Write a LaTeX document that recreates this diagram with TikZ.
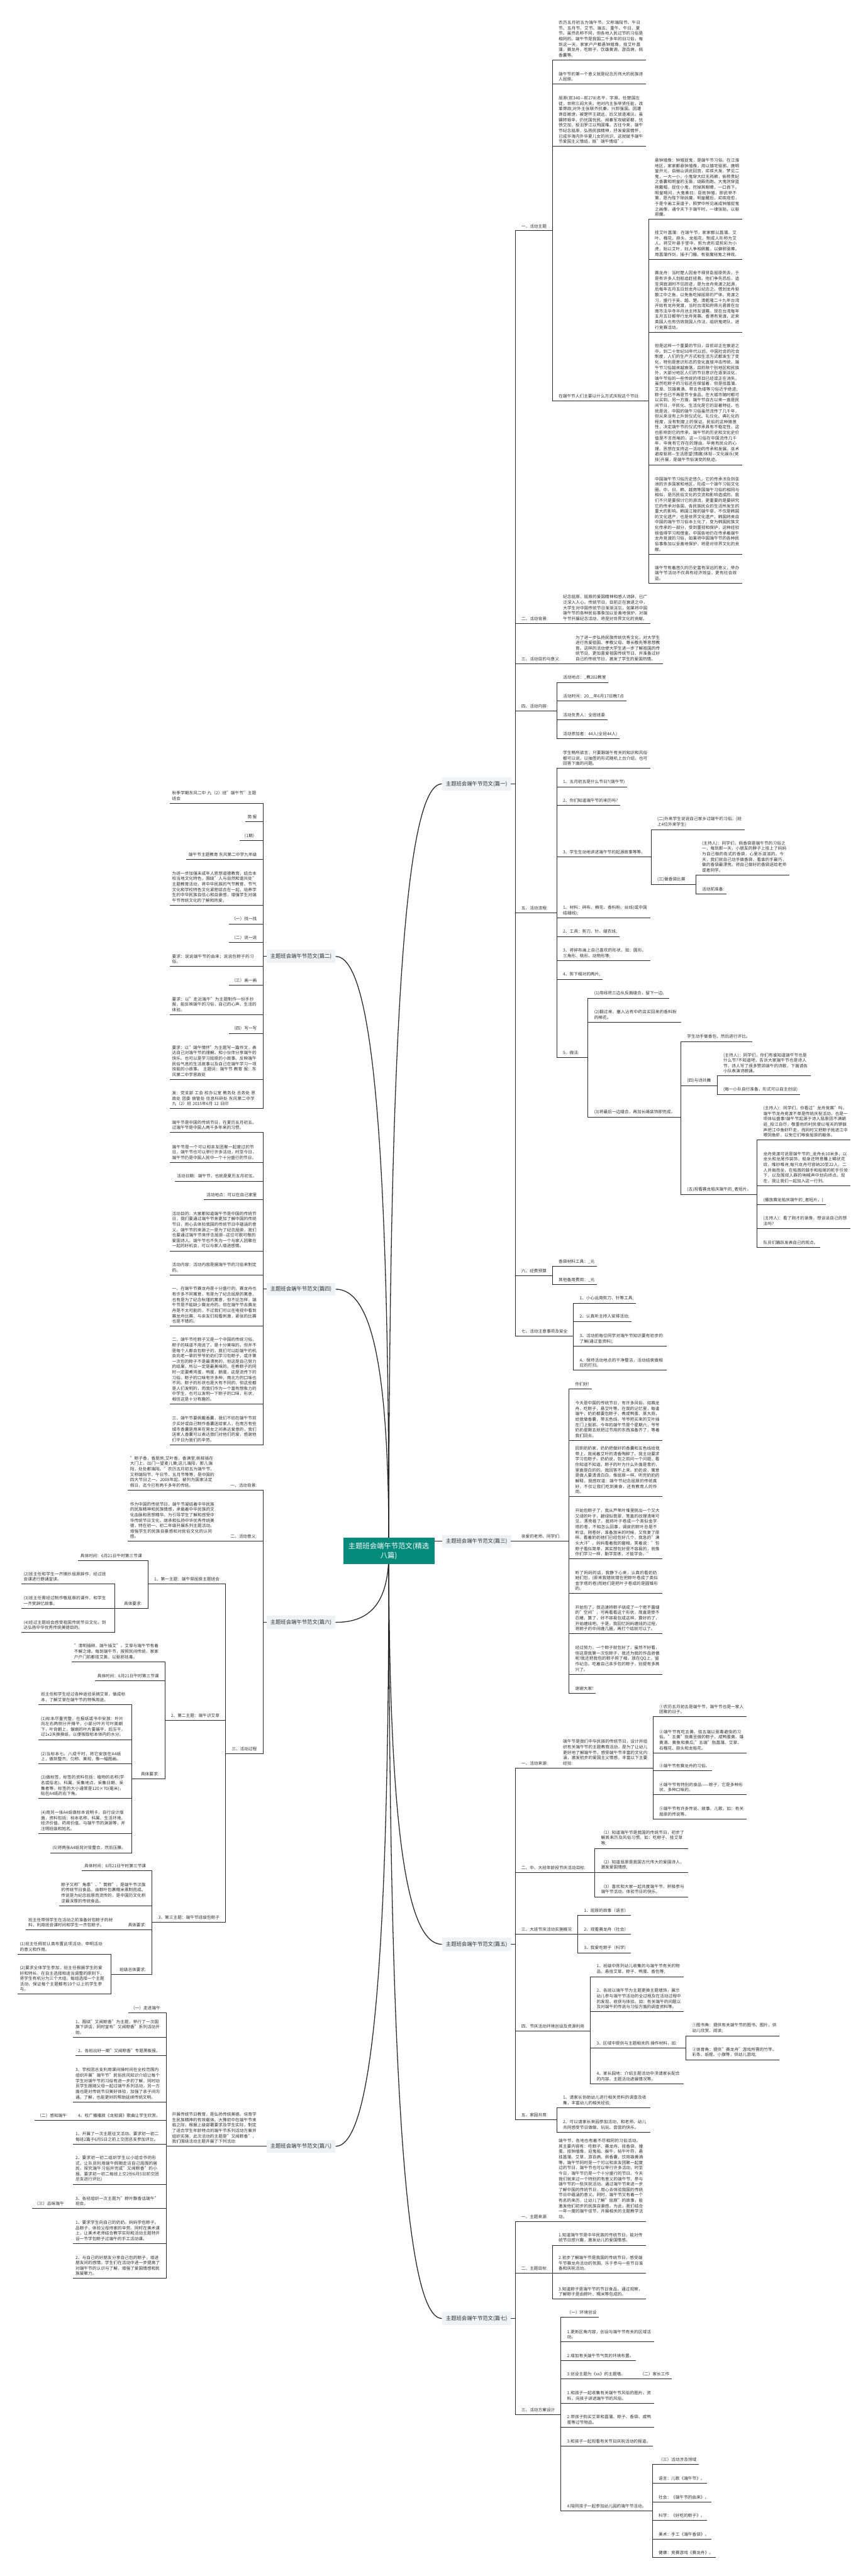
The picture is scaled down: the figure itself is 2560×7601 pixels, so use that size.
\documentclass[tikz,border=0pt]{standalone}
\usepackage{fontspec}
\setmainfont{Noto Sans CJK SC}[Ligatures=ResetAll]
\XeTeXlinebreaklocale "zh"
\XeTeXlinebreakskip = 0pt plus 1pt
\usetikzlibrary{backgrounds}
\definecolor{tc}{RGB}{45,45,45}
\definecolor{lc}{RGB}{40,40,40}
\definecolor{lvf}{RGB}{239,241,244}
\definecolor{teal0}{RGB}{6,138,124}
\newcommand\mytf{\fontsize{12.4pt}{16pt}\selectfont}
\newcommand\mylf{\fontsize{15.5pt}{19pt}\selectfont}
\newcommand\mycf{\fontsize{21pt}{28pt}\selectfont}
\tikzset{
 ul/.style={line width=1.8pt, draw=lc, line cap=rect},
 crv/.style={line width=2.4pt, draw=lc},
 rt/.style={anchor=south west, inner sep=0pt, font=\mytf, text=tc},
 lt/.style={anchor=south east, inner sep=0pt, font=\mytf, text=tc},
 wr/.style={text width=250pt, align=left},
 lvl/.style={fill=lvf, minimum width=204pt, minimum height=38pt, inner sep=0pt, font=\mylf, text=tc},
 ctrs/.style={fill=teal0, text=white, minimum width=269pt, minimum height=77pt, inner sep=0pt, align=center, font=\mycf}
}
% right leaf: name, xbar, y, opts, text
\newcommand\RI[5]{%
 \node[rt,#4] (#1) at ({#2+18},{#3-8}) {#5};
 \coordinate (#1A) at (#2,#3);
 \coordinate (#1E) at ([xshift=6pt]#1.south east);
 \coordinate (#1B) at (#1E |- #1A);
 \draw[ul] (#1A) -- (#1B);}
% right parent: name, xbar, xend, y, opts, text
\newcommand\RP[6]{%
 \node[rt,#5] (#1) at ({#2+18},{#4-8}) {#6};
 \coordinate (#1A) at (#2,#4);
 \coordinate (#1B) at (#3,#4);
 \draw[ul] (#1A) -- (#1B);}
% left leaf: name, xbar, y, opts, text
\newcommand\LI[5]{%
 \node[lt,#4] (#1) at ({#2-18},{#3-8}) {#5};
 \coordinate (#1A) at (#2,#3);
 \coordinate (#1E) at ([xshift=-6pt]#1.south west);
 \coordinate (#1B) at (#1E |- #1A);
 \draw[ul] (#1B) -- (#1A);}
% left parent: name, xbar, xstart, y, opts, text
\newcommand\LP[6]{%
 \node[lt,#5] (#1) at ({#2-18},{#4-8}) {#6};
 \coordinate (#1A) at (#2,#4);
 \coordinate (#1B) at (#3,#4);
 \draw[ul] (#1B) -- (#1A);}
\newcommand\VB[2]{\draw[ul] (#1A) -- (#2A);}
\begin{document}
\begin{tikzpicture}[x=1pt,y=-1pt]
\useasboundingbox (0,0) rectangle (2560,7601);
% ---------------- centre and main branches
\node[ctrs] (ctr) at (1147,4576) {主题班会端午节范文(精选\\八篇)};
\node[lvl] (p1) at (1406,2313) {主题班会端午节范文(篇一)};
\node[lvl] (p3) at (1406,4548) {主题班会端午节范文(篇三)};
\node[lvl] (p5) at (1406,5737) {主题班会端午节范文(篇五)};
\node[lvl] (p7) at (1406,6841) {主题班会端午节范文(篇七)};
\node[lvl] (p2) at (888,2822) {主题班会端午节范文(篇二)};
\node[lvl] (p4) at (888,3804) {主题班会端午节范文(篇四)};
\node[lvl] (p6) at (888,4787) {主题班会端午节范文(篇六)};
\node[lvl] (p8) at (888,6333) {主题班会端午节范文(篇八)};
\draw[ul] (ctr.east |- p3.west) -- (p3.west);

% ================= 篇一
\RP{a1}{1520}{1630}{681}{}{一、活动主题}
\RI{a11}{1630}{177}{wr}{农历五月初五为端午节，又称端阳节、午日节、五月节、艾节、端五、重午、午日、夏节。虽然名称不同，但各地人民过节的习俗是相同的。端午节是我国二千多年的旧习俗，每到这一天，家家户户都悬钟馗像，挂艾叶菖蒲，赛龙舟，吃粽子，饮雄黄酒，游百病，佩香囊等。}
\RI{a12}{1630}{248}{wr}{端午节的第一个意义就是纪念历伟大的民族诗人屈原。}
\RI{a13}{1630}{432}{wr}{屈原(前340—前278)名平，字原。任楚国左徒，世称三闾大夫。他对内主张举贤任能，改革弊政;对外主张联齐抗秦，兴邦强国。因遭谗臣嫉谤，被楚怀王疏远，后又放逐湘沅，虽辗转艰辛，仍忧国忧民。闻秦军攻破郢都，忧愤交加，投汨罗江以殉国难。古往今来，端午节纪念屈原，弘扬民族精神，抒发爱国情怀，已成华海内外华夏儿女的共识，这就赋予端午节爱国主义情结，既"端午情结"。}
\RP{a14}{1630}{1914}{1183}{}{在端午节人们主要以什么方式庆祝这个节日:}
\VB{a11}{a14}
\RI{a141}{1914}{647}{wr}{悬钟馗像：钟馗捉鬼，是端午节习俗。在江淮地区，家家都悬钟馗像，用以镇宅驱邪。唐明皇开元，自骊山讲武回宫，疟疾大发，梦见二鬼，一大一小，小鬼穿大红无裆裤，偷杨贵妃之香囊和明皇的玉笛，绕殿而跑。大鬼则穿蓝袍戴帽，捉住小鬼，挖掉其眼睛，一口吞下。明皇喝问，大鬼奏曰：臣姓钟馗，即武举不第，愿为陛下除妖魔，明皇醒后，疟疾痊愈，于是令画工吴道子，照梦中所见画成钟馗捉鬼之画像，通令天下于端午时，一律张贴，以驱邪魔。}
\RI{a142}{1914}{765}{wr}{挂艾叶菖蒲：在端午节，家家都以菖蒲、艾叶、榴花、蒜头、龙船花，制成人形称为艾人。将艾叶悬于堂中，剪为虎形或剪彩为小虎，贴以艾叶，妇人争相佩戴，以僻邪驱瘴。用菖蒲作剑，插于门楣，有驱魔祛鬼之神效。}
\RI{a143}{1914}{980}{wr}{赛龙舟：当时楚人因舍不得贤臣屈原死去，于是有许多人划船追赶拯救。他们争先恐后，追至洞庭湖时不见踪迹，是为龙舟竞渡之起源，后每年五月五日划龙舟以纪念之。借划龙舟驱散江中之鱼，以免鱼吃掉屈原的尸体。竞渡之习，盛行于吴、越、楚。清乾隆二十九年台湾开始有龙舟竞渡，当时台湾知府蒋元君曾在台南市法华寺半月池主持友谊赛。现在台湾每年五月五日都举行龙舟竞赛。香港有竞渡，近来英国人也有仿效我国人作法，组织鬼佬队，进行竞赛活动。}
\RI{a144}{1914}{1372}{wr}{但是这样一个重要的节日，目前却正在衰退之中。到二十世纪50年代以后，中国社会的社会制度，人们的生产方式和生活方式都发生了变化，特别是意识形态的变化直接冲击传统，端午节习俗越来越衰落，目前除个别地区和民族外，大部分地区人们的节日意识在逐渐淡化，端午节俗的一些传统的项目已经或正在消失。虽然吃粽子的习俗还在保留着，但是挂菖蒲、艾草、饮雄黄酒、带五色缕等习俗近乎绝迹;粽子也已不再是节令食品，在大城市随时都可以买到。另一方面，端午节自古以来一直是民间节日，平民化、生活化是它的显著特征。也就是说，中国的端午习俗虽然流传了几千年，但从来没有上升到仪式化、礼仪化、典礼化的程度，没有制度上的保证。民俗的这种随意性，决定端午节的仪式传承具有不稳定性，这也影响到它的传承。端午节的历史和文化史价值是不言而喻的，这一习俗在中国流传几千年，毕竟有它存在的理由，毕竟有民众的心理、思想在支持这一活动的传承和发展。巫术避疫驱邪—生活愿望(情趣)体现—文化娱乐(竞技)开展，是端午节俗演变的轨迹。}
\RI{a145}{1914}{1635}{wr}{中国端午节习俗历史悠久，它的传承涉及到亚洲的许多国家和地区，形成一个端午习俗文化圈。中、日、韩、越南等国端午习俗的相同与相似，是历民俗文化的交流和影响造成的。我们不只是要探讨它的源流，更重要的是要研究它的传承对各国、各民族民众的生活所发生的重大的影响。韩国江陵的端午祭，不仅是韩国的文化遗产，也是世界文化遗产。韩国将来自中国的端午节习俗本土化了，变为韩国民族文化传承的一部分，受到重视和保护，这种经验很值得学习和借鉴。中国各地仍在传承着端午龙舟竞渡的习俗，如果将中国端午节的各种民俗事象加以妥善地保护，将是对世界文化的贡献。}
\RI{a146}{1914}{1721}{wr}{端午节有着悠久的历史富有深远的意义，举办端午节活动不仅具有经济效益，更有社会效益。}
\VB{a141}{a146}
\RP{a2}{1520}{1643}{1840}{}{二、活动背景:}
\RI{a21}{1643}{1840}{wr}{纪念屈原，屈原的爱国精神和感人诗辞，已广泛深入人心。传统节日，目前正在衰退之中，大学生对中国传统节日渐渐淡忘，如果将中国端午节的各种民俗事象加以妥善地保护，对端午节开展纪念活动，将是对世界文化的贡献。}
\RP{a3}{1520}{1680}{1959}{}{三、活动目的与意义:}
\RI{a31}{1680}{1959}{wr}{为了进一步弘扬民族传统优秀文化，对大学生进行热爱祖国、孝敬父母、尊长敬先等思想教育。这样的活动使大学生进一步了解祖国的传统节日、更加喜爱祖国传统节日、并准备过好自己的传统节日，激发了学生的爱国热情。}
\RP{a4}{1520}{1643}{2097}{}{四、活动内容:}
\RI{a41}{1643}{2014}{}{活动地点：\_教202教室}
\RI{a42}{1643}{2069}{}{活动时间：20\_\_年6月17日晚7点}
\RI{a43}{1643}{2124}{}{活动负责人：全班班委}
\RI{a44}{1643}{2180}{}{活动参加者：44人(全班44人)}
\VB{a41}{a44}
\RP{a5}{1520}{1643}{2694}{}{五、活动流程:}
\RI{a51}{1643}{2267}{wr}{学生畅所欲言，只要跟端午有关的知识和风俗都可以说，以抽签的形式随机上台介绍，也可回答下面的问题。}
\RI{a52}{1643}{2322}{}{1、五月初五是什么节日?(端午节)}
\RI{a53}{1643}{2377}{}{2、你们知道端午节的来历吗?}
\RP{a54}{1643}{1921}{2529}{}{3、学生生动地讲述端午节的起源故事等等。}
\RI{a541}{1921}{2448}{wr}{(二)外来学生说说自己家乡过端午的习俗。(班上4位外来学生)}
\RP{a542}{1921}{2053}{2610}{}{(三)做香袋比赛}
\VB{a541}{a542}
\RI{a5421}{2053}{2582}{wr}{(主持人)：同学们，佩香袋是端午节的习俗之一，每到那一天，小朋友的脖子上挂上了妈妈为自己做的各式的香袋，心里乐滋滋的。今天，我们就自己动手做香袋，看谁的手最巧，做的香袋最漂亮。将自己做好的香袋送给老师或者同学。}
\RI{a5422}{2053}{2637}{}{活动前准备:}
\VB{a5421}{a5422}
\RI{a55}{1643}{2709}{wr}{1、材料：碎布、棉花、香料粉、丝线(或中国结细线);}
\RI{a56}{1643}{2764}{}{2、工具：剪刀、针、缝衣线;}
\RI{a57}{1643}{2835}{wr}{3、将碎布画上自己喜欢的形状，如：圆形、三角形、桃形、动物形等;}
\RI{a58}{1643}{2890}{}{4、剪下相对的两片;}
\RP{a59}{1643}{1735}{3121}{}{5、做法:}
\VB{a51}{a59}
\RI{a591}{1735}{2945}{}{(1)用线将三边从反面缝合，留下一边。}
\RI{a592}{1735}{3016}{wr}{(2)翻过来，塞入沾有中药店买回来的香料粉的棉花。}
\RP{a593}{1735}{2009}{3297}{}{(3)将最后一边缝合，再加长绳装饰即完成。}
\VB{a591}{a593}
\RI{a5931}{2009}{3073}{}{学生动手做香包，然后进行评比。}
\RP{a5932}{2009}{2116}{3203}{}{(四)与诗共舞}
\RP{a5933}{2009}{2234}{3524}{}{(五)观看赛龙船庆端午的\_者短片。}
\VB{a5931}{a5933}
\RI{a59321}{2116}{3175}{wr}{(主持人)：同学们，你们有谁知道端午节也是什么节?不知道吧，告诉大家端午节也是诗人节，诗人写了很多赞颂端午的诗歌，下面请各小队表演诗朗诵。}
\RI{a59322}{2116}{3230}{}{(每一小队自行准备，形式可以自主创设)}
\VB{a59321}{a59322}
\RI{b1}{2234}{3364}{wr}{(主持人)：同学们，你看过"龙舟竞赛"吗，端午节龙舟竞渡不单是传统庆祝活动，也是一项体坛盛事!端午节起源于诗人屈原因不满朝廷\_投江自尽，敬重他的村民便以喧天的锣鼓声把江中鱼虾吓走，而同时又把粽子抛进江中喂饲鱼虾，以免它们啄食屈原的躯体。}
\RI{b2}{2234}{3499}{wr}{龙舟竞渡可说是端午节的\_龙舟长10米多，以龙头和龙尾作装饰，船身还特意雕上鳞状花纹，唯妙唯肖;每只龙舟可容纳20至22人，二人并肩而坐，在船首的鼓手和船尾的舵手引领下，以及围观人群的呐喊声中划向终点。现在，我让我们一起加入这一行列。}
\RI{b3}{2234}{3555}{}{(播放赛龙船庆端午的\_者短片。)}
\RI{b4}{2234}{3625}{wr}{(主持人)：看了刚才的录像，想谈谈自己的想法吗?}
\RI{b5}{2234}{3681}{}{队员们踊跃发表自己的观点。}
\VB{b1}{b5}
\RP{a6}{1520}{1630}{3764}{}{六、经费预算}
\RI{a61}{1630}{3737}{}{香袋材料工具：\_元}
\RI{a62}{1630}{3791}{}{其他备用费用：\_元}
\VB{a61}{a62}
\RP{a7}{1520}{1692}{3943}{}{七、活动注意事项及安全}
\RI{a71}{1692}{3846}{}{1、小心运用剪刀、针等工具;}
\RI{a72}{1692}{3900}{}{2、认真听主持人安排活动;}
\RI{a73}{1692}{3973}{wr}{3、活动前每位同学对端午节知识要有初步的了解(通过查资料);}
\RI{a74}{1692}{4043}{wr}{4、保持活动地点的干净整洁，活动结束做相应的打扫。}
\VB{a71}{a74}
\VB{a1}{a7}
\draw[ul] (p1.east) -- (a1A |- p1.east);

% ================= 篇三
\RP{c1}{1520}{1679}{4548}{}{亲爱的老师、同学们:}
\RI{c11}{1679}{4099}{}{你们好!}
\RI{c12}{1679}{4250}{wr}{今天是中国的传统节日，有许多风俗，如赛龙舟、吃粽子，悬艾叶等。在我的记忆里，每逢端午，奶奶都要包粽子，煮咸鸭蛋、蒸大蒜，给我做香囊，带五色线。爷爷把买来的艾叶插在门上驱邪。今年的端午节是个星期六，爷爷奶奶星期五就把过节用的东西准备齐了，等着我们回去。}
\RI{c13}{1679}{4416}{wr}{回到奶奶家，奶奶把做好的香囊和五色线给我带上，我闻着艾叶的清香陶醉了。我主动要求学习包粽子。奶奶说，包之前问一个问题，看你知道不知道。粽子的叶为什么外面是青的，里面是白的的。我回答不上来。奶奶说，寓意是做人要清清白白，像屈原一样。听完奶奶的解释，我感叹道：端午节纪念屈原的传统真好，不仅让我们吃到美食，还有教育人的作用。}
\RI{c14}{1679}{4600}{wr}{开始包粽子了，我从芦苇叶堆里挑出一个又大又绿的叶子，碧绿似翡翠，笔直的纹理清晰可见，漂亮极了。我将叶子卷成一个类似金字塔的卷，不知怎么回事，调皮的粽叶总是不听话，刚卷好，准备放米的时候，又恢复了原样。看着奶奶她们已经包好几个，我急的"满头大汗"。妈妈看着我的窘相，笑着说："包粽子看似简单，其实想包好是不容易的，就像你们学习一样，勤学苦练，才能学会。"}
\RI{c15}{1679}{4702}{wr}{听了妈妈的话，我静下心来，认真的看奶奶她们包，(原来我错就错在把粽叶卷成了类似金字塔的卷)而她们是把叶子卷成的是圆锥形的。}
\RI{c16}{1679}{4821}{wr}{开始包了，我迅速将粽子绕成了一个密不露缝的"空间"，可再看看这个形状，简直是惨不忍睹，算了，好不容易包成这样，算好的了，开始缠线吧。于是，我回忆妈妈缠线的过程，将粽子的中间缠几圈，再打个结就可以了。}
\RI{c17}{1679}{4940}{wr}{经过努力，一个粽子就包好了，虽然不好看，但这是我第一次包粽子，我还为我的作品骄傲呢!我还把我包的粽子照了相，放在QQ上，留作纪念。吃着自己亲手包的粽子，别提有多高兴了。}
\RI{c18}{1679}{4996}{}{谢谢大家!}
\VB{c11}{c18}
\draw[ul] (p3.east) -- (c1A);

% ================= 篇五
\RP{d1}{1520}{1643}{5217}{}{一、活动来源:}
\RP{d11}{1643}{1927}{5217}{wr}{端午节是我们中华民族的传统节日，设计并组织有关端午节的主题教育活动，是为了让幼儿更好地了解端午节，感受端午节丰富的文化内涵，激发初步的爱国主义情感，丰富以下主要经验:}
\RI{d111}{1927}{5066}{wr}{①农历五月初五是端午节，端午节也是一家人团聚的日子。}
\RI{d112}{1927}{5172}{wr}{②端午节有吃五黄、挂五端以驱毒避虫的习俗。"五黄"指黄豆做的粽子、咸鸭蛋黄、雄黄酒、黄鱼和黄瓜;"五端"指菖蒲、艾草、石榴花、蒜头和龙船花。}
\RI{d113}{1927}{5225}{}{③端午节有赛龙舟的习俗。}
\RI{d114}{1927}{5296}{wr}{④端午节有特别的食品——粽子，它是多种形状、多种口味的。}
\RI{d115}{1927}{5367}{wr}{⑤端午节有许多传说、故事、儿歌，如：有关屈原的传说等。}
\VB{d111}{d115}
\RP{d2}{1520}{1755}{5525}{}{二、中、大班年龄段节庆活动目标:}
\RI{d21}{1755}{5454}{wr}{（1）知道端午节是我国的传统节日，初步了解其来历及风俗习惯。如：吃粽子、挂艾草等;}
\RI{d22}{1755}{5525}{wr}{（2）知道屈原是我国古代伟大的爱国诗人，激发爱国情感;}
\RI{d23}{1755}{5597}{wr}{（3）喜欢和大家一起共度端午节，积极参与端午节活动，体验节日的快乐。}
\VB{d21}{d23}
\RP{d3}{1520}{1705}{5707}{}{三、大班节庆活动实施概况}
\RI{d31}{1705}{5652}{}{1、屈原的故事（语言）}
\RI{d32}{1705}{5707}{}{2、观看赛龙舟（社会）}
\RI{d33}{1705}{5762}{}{3、我爱吃粽子（科学）}
\VB{d31}{d33}
\RP{d4}{1520}{1742}{5992}{}{四、节庆活动环境创设及资源利用}
\RI{d41}{1742}{5833}{wr}{1、班级中陈列幼儿收集的与端午节有关的物品，悬挂艾草、粽子、鸭蛋、香包等;}
\RI{d42}{1742}{5936}{wr}{2、各班以端午节为主题更换主题墙饰，展示幼儿参与端午节活动的全过程及在活动过程中的发现、收获与体验。如：有关端午的问题以及对端午的传说与习俗方面的调查资料等。}
\RP{d43}{1742}{2024}{6043}{}{3、区域中提供与主题相关的.操作材料，如:}
\RI{d44}{1742}{6148}{wr}{4、家长园地：介绍主题活动中须请家长配合的内容、主题活动进展情况等。}
\VB{d41}{d44}
\RI{d431}{2024}{6007}{wr}{①图书角：提供有关端午节的图书、图片，供幼儿欣赏、阅读;}
\RI{d432}{2024}{6078}{wr}{②体育角：提供"赛龙舟"游戏所需的竹竿、彩条、纸棍、小旗等，供幼儿游戏;}
\VB{d431}{d432}
\RP{d5}{1520}{1643}{6254}{}{五、家园共育:}
\RI{d51}{1643}{6220}{wr}{1、请家长协助幼儿进行相关资料的调查及收集，丰富幼儿的相关经验;}
\RI{d52}{1643}{6291}{wr}{2、可以请家长来园参加活动，和老师、幼儿共同感受节日做做、玩玩、尝尝的快乐。}
\VB{d51}{d52}
\VB{d1}{d5}
\draw[ul] (p5.east) -- (d1A |- p5.east);

% ================= 篇七
\RP{e1}{1520}{1630}{6555}{}{一、主题来源}
\RI{e11}{1630}{6555}{wr}{端午节，各地也有着不尽相同的习俗活动。其主要内容有：吃粽子、赛龙舟、挂香袋、撞蛋、挂钟馗像，迎鬼船、躲午，帖午叶符，悬挂菖蒲、艾草，游百病，佩香囊，饮用雄黄酒等。端午节同时是一个可以和亲友团聚一起度过的节日，端午节也可以举行许多活动，时至今日，端午节仍是一个十分盛行的节日。今天我们就来过一个特别的有意义的端午节，参与端午节的一些庆祝活动。通过端午节来进一步了解中国的传统节日，用心去体验我国的传统节日中蕴涵的意义。同时，端午节又有着一个有名的来历，让幼儿了解"屈原"的故事，能激发他们初步的民族自豪感。为此，我们结合一年一度的端午佳节，开展相关的主题教学活动。}
\RP{e2}{1520}{1630}{6708}{}{二、主题目标}
\RI{e21}{1630}{6625}{wr}{1.知道端午节是中华民族的传统节日，能对传统节日感兴趣，激发幼儿的爱国情感。}
\RI{e22}{1630}{6708}{wr}{2.初步了解端午节是我国的传统节日，感受端午节赛龙舟活动的氛围，乐于参与一些节日准备和庆祝活动。}
\RI{e23}{1630}{6784}{wr}{3.知道粽子是端午节的节日食品，通过观察，了解粽子是由粽叶、糯米等包成的。}
\VB{e21}{e23}
\RP{e3}{1520}{1655}{7124}{}{三、活动方案设计}
\RI{e31}{1655}{6838}{}{（一）环境创设}
\RI{e32}{1655}{6910}{wr}{1.更新区角内容，创设与端午节有关的区域活动。}
\RI{e33}{1655}{6965}{}{2.增加有关端午节气氛的环境布置。}
\RP{e34}{1655}{1870}{7020}{}{3.创设主题为《xx》的主题墙。}
\RI{e341}{1870}{7020}{}{（二）家长工作}
\RI{e35}{1655}{7091}{wr}{1.和孩子一起收集有关端午节风俗的图片、资料，向孩子讲述端午节的风俗。}
\RI{e36}{1655}{7162}{wr}{2.带孩子购买艾草和菖蒲、粽子、香袋、咸鸭蛋等过节物品。}
\RI{e37}{1655}{7217}{}{3.和孩子一起观看有关节日庆祝活动的报道。}
\RP{e38}{1655}{1925}{7409}{}{4.陪同孩子一起参加幼儿园的端午节活动。}
\VB{e31}{e38}
\RI{e381}{1925}{7272}{}{（三）活动涉及领域}
\RI{e382}{1925}{7327}{}{语言：儿歌《端午节》。}
\RI{e383}{1925}{7382}{}{社会：《端午节的由来》。}
\RI{e384}{1925}{7437}{}{科学：《好吃的粽子》。}
\RI{e385}{1925}{7492}{}{美术：手工《端午香袋》。}
\RI{e386}{1925}{7547}{}{健康：竞赛游戏《赛龙舟》。}
\VB{e381}{e386}
\VB{e1}{e3}
\draw[ul] (p7.east) -- (e1A |- p7.east);

% ================= 篇二
\LI{f1}{776}{2370}{wr}{秋季学期东风二中 九（2）班"端午节"主题班会}
\LI{f2}{776}{2425}{}{简 报}
\LI{f3}{776}{2480}{}{（1期）}
\LI{f4}{776}{2535}{}{端午节主题教育 东风第二中学九年级}
\LI{f5}{776}{2671}{wr}{为进一步加强未成年人思想道德教育，结合本校当地文化特色，围绕"人与自然和谐共处"主题教育活动，将中华民族的气节教育、节气文化和学校特色文化紧密结合在一起，培养学生的中华民族自信心和自豪感，增强学生对端午节传统文化的了解和热爱。}
\LI{f6}{776}{2726}{}{（一）找一找}
\LI{f7}{776}{2781}{}{（二）说一说}
\LI{f8}{776}{2852}{wr}{要求：说说端午节的由来；说说包粽子的习俗。}
\LI{f9}{776}{2907}{}{（三）画一画}
\LI{f10}{776}{2994}{wr}{要求：以"走近端午"为主题制作一份手抄报，能反映端午的习俗，自己的心声、生活的体验。}
\LI{f11}{776}{3049}{}{（四）写一写}
\LI{f12}{776}{3185}{wr}{要求：以"端午情怀"为主题写一篇作文，表达自己对端午节的理解、和小伙伴分享端午的快乐。也可以是学习屈原的小故事、反映端午民俗气息的生活故事以及自己在端午学习一项技能的小故事。 主题词：端午节 教育 报：东风第二中学思政处}
\LI{f13}{776}{3271}{wr}{发：党支部 工会 校办公室 教务处 总务处 思政处 团委 宿管处 信息科研处 东风第二中学九（2）班 2015年6月 12 日印}
\VB{f1}{f13}
\draw[ul] (p2.west) -- (f1A |- p2.west);

% ================= 篇四
\LI{g1}{776}{3342}{wr}{端午节是中国的传统节日，在夏历五月初五。过端午节是中国人两千多年来的习惯。}
\LI{g2}{776}{3430}{wr}{端午节是一个可以和亲友团聚一起度过的节日，端午节也可以举行许多活动，时至今日，端午节仍是中国人民中一个十分盛行的节日。}
\LI{g3}{776}{3485}{}{活动日期：端午节，也就是夏历五月初五。}
\LI{g4}{776}{3539}{}{活动地点：可以在自己家里}
\LI{g5}{776}{3691}{wr}{活动目的：大家都知道端午节是中国的传统节日，我们要通过端午节来更加了解中国的传统节日，用心去体验我国的传统节日中蕴涵的意义。端午节的来源之一是为了纪念屈原，我们也要通过端午节来怀念屈原-{}-这位可歌可敬的爱国诗人。端午节也不失为一个与家人团聚在一起的好机会，可以与家人增进感情。}
\LI{g6}{776}{3762}{wr}{活动内容：活动内容是据端午节的习俗来制定的。}
\LI{g7}{776}{3913}{wr}{一、在端午节赛龙舟是十分盛行的，赛龙舟也有许多不同寓意，有是为了纪念屈原的寓意，也有是为了纪念秋瑾的寓意，但不论怎样，端午节是不能缺少赛龙舟的。但在端午节去赛龙舟是不太可能的，不过我们可以在电视中看到赛龙舟比赛，与亲友们观看刺激，紧张的比赛也是不错的。}
\LI{g8}{776}{4143}{wr}{二、端午节吃粽子又是一个中国的传统习俗。粽子的味道不用说了，是十分美味的。但并不是每个人都会包粽子的，我们可以趁端午的机会向老一辈的爷爷奶奶们学习包粽子，或许第一次包的粽子不是最漂亮的，但这是自己努力的结果，所以一定是最美味的。在煮粽子的同时一定要煮鸡蛋，鸭蛋，鹅蛋，这是流传下的习俗。粽子的口味有许多种，南北方的口味也不同。粽子的形状也是大有不同的，但这些都是人们发明的，而我们作为一个富有想象力的中学生，也可以发明一下粽子的口味，形状，相信这是十分有趣的。}
\LI{g9}{776}{4263}{wr}{三、端午节要佩戴香囊，我们不妨在端午节前夕买好或自己制作香囊送给家人，在南方有些城市香囊是用来在男女之间表达爱意的，我们送家人香囊可以表达我们对他们的爱，感谢他们平日为我们的辛劳。}
\VB{g1}{g9}
\draw[ul] (p4.west) -- (g1A |- p4.west);

% ================= 篇六
\LP{h1}{776}{652}{4397}{}{一、活动背景:}
\LI{h11}{652}{4397}{wr}{"粽子香，香厨房;艾叶香，香满堂;桃枝插在大门上，出门一望麦儿黄;这儿端阳，那儿端阳，处处都端阳。"农历五月初五为端午节，又称端阳节、午日节、五月节等等，是中国的四大节日之一。2008年起，被列为国家法定假日，迄今已有两千多年的传统。}
\LP{h2}{776}{652}{4548}{}{二、活动意义:}
\LI{h21}{652}{4548}{wr}{作为中国的传统节日，端午节凝结着中华民族的民族精神和民族情感，承载着中华民族的文化血脉和思想精华。为引导学生了解和感受中华传统节日文化，继承和弘扬中华优秀传统美德，特在初一、初二年级开展系列主题活动，增强学生的民族自豪感和对民俗文化的认同感。}
\LP{h3}{776}{666}{5174}{}{三、活动过程}
\LP{h31}{666}{437}{4674}{}{1、第一主题：端午祭屈原主题班会}
\LI{h311}{437}{4604}{}{具体时间：6月21日午时第三节课}
\LP{h312}{437}{338}{4746}{}{具体要求:}
\VB{h311}{h312}
\LI{h3121}{338}{4674}{wr}{(2)班主任和学生一齐摘抄屈原辞作，经过班会课进行朗诵宣读。}
\LI{h3122}{338}{4746}{wr}{(3)班主任需经过制作敬屈原的课件，和学生一齐赏辞忆故事。}
\LI{h3123}{338}{4817}{wr}{(4)经过主题班会感受祖国传统节日文化，到达弘扬中华优秀传统美德目的。}
\VB{h3121}{h3123}
\LP{h32}{666}{487}{5076}{}{2、第二主题：端午识艾草}
\LI{h321}{487}{4903}{wr}{"清明插柳，端午插艾"。艾草与端午节有着不解之缘。每到端午节，按照民间传统，家家户户门前都挂艾蒿，以驱邪祛毒。}
\LI{h322}{487}{4959}{}{具体时间：6月21日午时第三节课}
\LP{h323}{487}{389}{5248}{}{具体要求:}
\VB{h321}{h323}
\LI{h3231}{389}{5030}{wr}{班主任和学生经过各种途径采摘艾草，做成标本，了解艾草在端午节的特殊用途。}
\LI{h3232}{389}{5133}{wr}{(1)标本尽量完整，在报纸或书中安放：叶片向左右两侧分开摊平，小部分叶片可叶面朝下，叶背朝上，皱缩的叶片要展平，后压干，过1x2天换换纸，以便吸取标本体内的水分。}
\LI{h3233}{389}{5205}{wr}{(2)当标本七、八成干时，将它安放在A4纸上，做到整齐、匀称、美观，像一幅图画。}
\LI{h3234}{389}{5307}{wr}{(3)做标签，标签的资料包括：植物的名称(学名或俗名)、科属、采集地点、采集日期、采集者等，标签的大小通常是120×70(毫米)，贴在A4纸的右下角。}
\LI{h3235}{389}{5410}{wr}{(4)用另一张A4纸做标本说明卡，自行设计版面，资料包括：标本名称、科属、生活环境、经济价值、药用价值、与端午节的渊源等，并注明班级和姓名。}
\LI{h3236}{389}{5467}{}{(5)将两张A4纸背对背整合，然后压膜。}
\VB{h3231}{h3236}
\LP{h33}{666}{449}{5672}{}{3、第三主题：端午节班级包粽子}
\LI{h331}{449}{5519}{}{具体时间：6月21日午时第三节课}
\LI{h332}{449}{5623}{wr}{粽子又称"角黍"、"筒粽"，是端午节汉族的传统节日食品，由粽叶包裹糯米蒸制而成。传说是为纪念屈原而流传的，是中国历文化积淀最深厚的传统食品。}
\LP{h333}{449}{352}{5695}{}{具体要求:}
\LI{h3331}{352}{5695}{wr}{班主任带领学生在活动之前准备好包粽子的材料，利用班会课时间和学生一齐包粽子。}
\LP{h334}{449}{327}{5825}{}{班级总体要求:}
\VB{h331}{h334}
\LI{h3341}{327}{5766}{wr}{(1)班主任假前认真布置此项活动，申明活动的意义和作用。}
\LI{h3342}{327}{5884}{wr}{(2)要求全体学生参加，班主任根据学生的爱好和特长，在自主选择和适当调整的原则下，将学生有机分为三个大组，每组选择一个主题活动，保证每个主题都有10个以上的学生参与。}
\VB{h3341}{h3342}
\VB{h31}{h33}
\VB{h1}{h3}
\draw[ul] (p6.west) -- (h1A |- p6.west);

% ================= 篇八
\LP{k1}{776}{491}{6333}{wr}{开展传统节日教育，是弘扬传统美德。培育学生民族精神的有效载体。大豫初中在端午节来临之际，根据上级部署要求及学生实际，制定了适合学生年龄特点的端午节系列活动方案并组织实施，此次活动的主题是"又闻粽香"，我们围绕活动主题开展了下列活动:}
\LI{k11}{491}{5940}{}{（一）走进端午}
\LI{k12}{491}{6011}{wr}{1、围绕"又闻粽香"为主题，举行了一次国旗下讲话，同时宣布"又闻粽香"系列活动开始。}
\LI{k13}{491}{6066}{}{2、各班出好一期"又闻粽香"专题黑板报。}
\LI{k14}{491}{6202}{wr}{3、学校团总支利用课间操时间在全校范围内组织开展"端午节"民俗民风知识介绍让每个学生对端午节的习俗有进一步的了解，同时动员学生跟随父母一起过端午系列活动，另一方面也是对传统节日美好体验，加强了亲子间沟通。了解，也能更好的帮助延续传统文明。}
\LP{k15}{491}{215}{6256}{}{4、校广播播放《龙船调》歌曲让学生欣赏。}
\LI{k151}{215}{6256}{}{（二）感知端午}
\LI{k16}{491}{6327}{wr}{1、开展了一次主题征文活动。要求初一初二每班2篇于6月5日之前上交团总支参加评比。}
\LI{k17}{491}{6446}{wr}{2、要求初一初二组织学生以小组合作的形式，让队员利用端午假期走访自己周围的居民，探究端午习俗并完成"又闻粽香"的小报。要求初一初二每班上交2份6月5日前交团总支进行评比)}
\LP{k18}{491}{207}{6517}{wr}{3、各班组织一次主题为"粽叶飘香话端午"班会。}
\LI{k181}{207}{6517}{}{（三）品味端午}
\LI{k19}{491}{6620}{wr}{1、要求学生向自己的奶奶。妈妈学包粽子。品粽子，体验父母持家的辛劳。同时在美术课上，让美术老师结合教学实际和活动主题特开设一节学包粽子过端午的手工活动课。}
\LI{k110}{491}{6723}{wr}{2、与自己的好朋友分享自己包的粽子，增进朋友间的感情。学生们在活动中进一步提高了对端午节的认识与了解，增强了爱国情感和民族凝聚力。}
\VB{k11}{k110}
\draw[ul] (p8.west) -- (k1A);

% ================= background: white page and curved links
\begin{scope}[on background layer]
\fill[white] (0,0) rectangle (2560,7601);
\draw[crv] (ctr.center) .. controls (1148,2992) and (1198,2313) .. (p1.west);
\draw[crv] (ctr.center) .. controls (1148,3348) and (1097,2822) .. (p2.east);
\draw[crv] (ctr.center) .. controls (1148,4036) and (1097,3804) .. (p4.east);
\draw[crv] (ctr.center) .. controls (1148,4724) and (1097,4787) .. (p6.east);
\draw[crv] (ctr.center) .. controls (1148,5389) and (1198,5737) .. (p5.west);
\draw[crv] (ctr.center) .. controls (1148,6162) and (1198,6841) .. (p7.west);
\draw[crv] (ctr.center) .. controls (1148,5806) and (1097,6333) .. (p8.east);
\end{scope}
\end{tikzpicture}
\end{document}
